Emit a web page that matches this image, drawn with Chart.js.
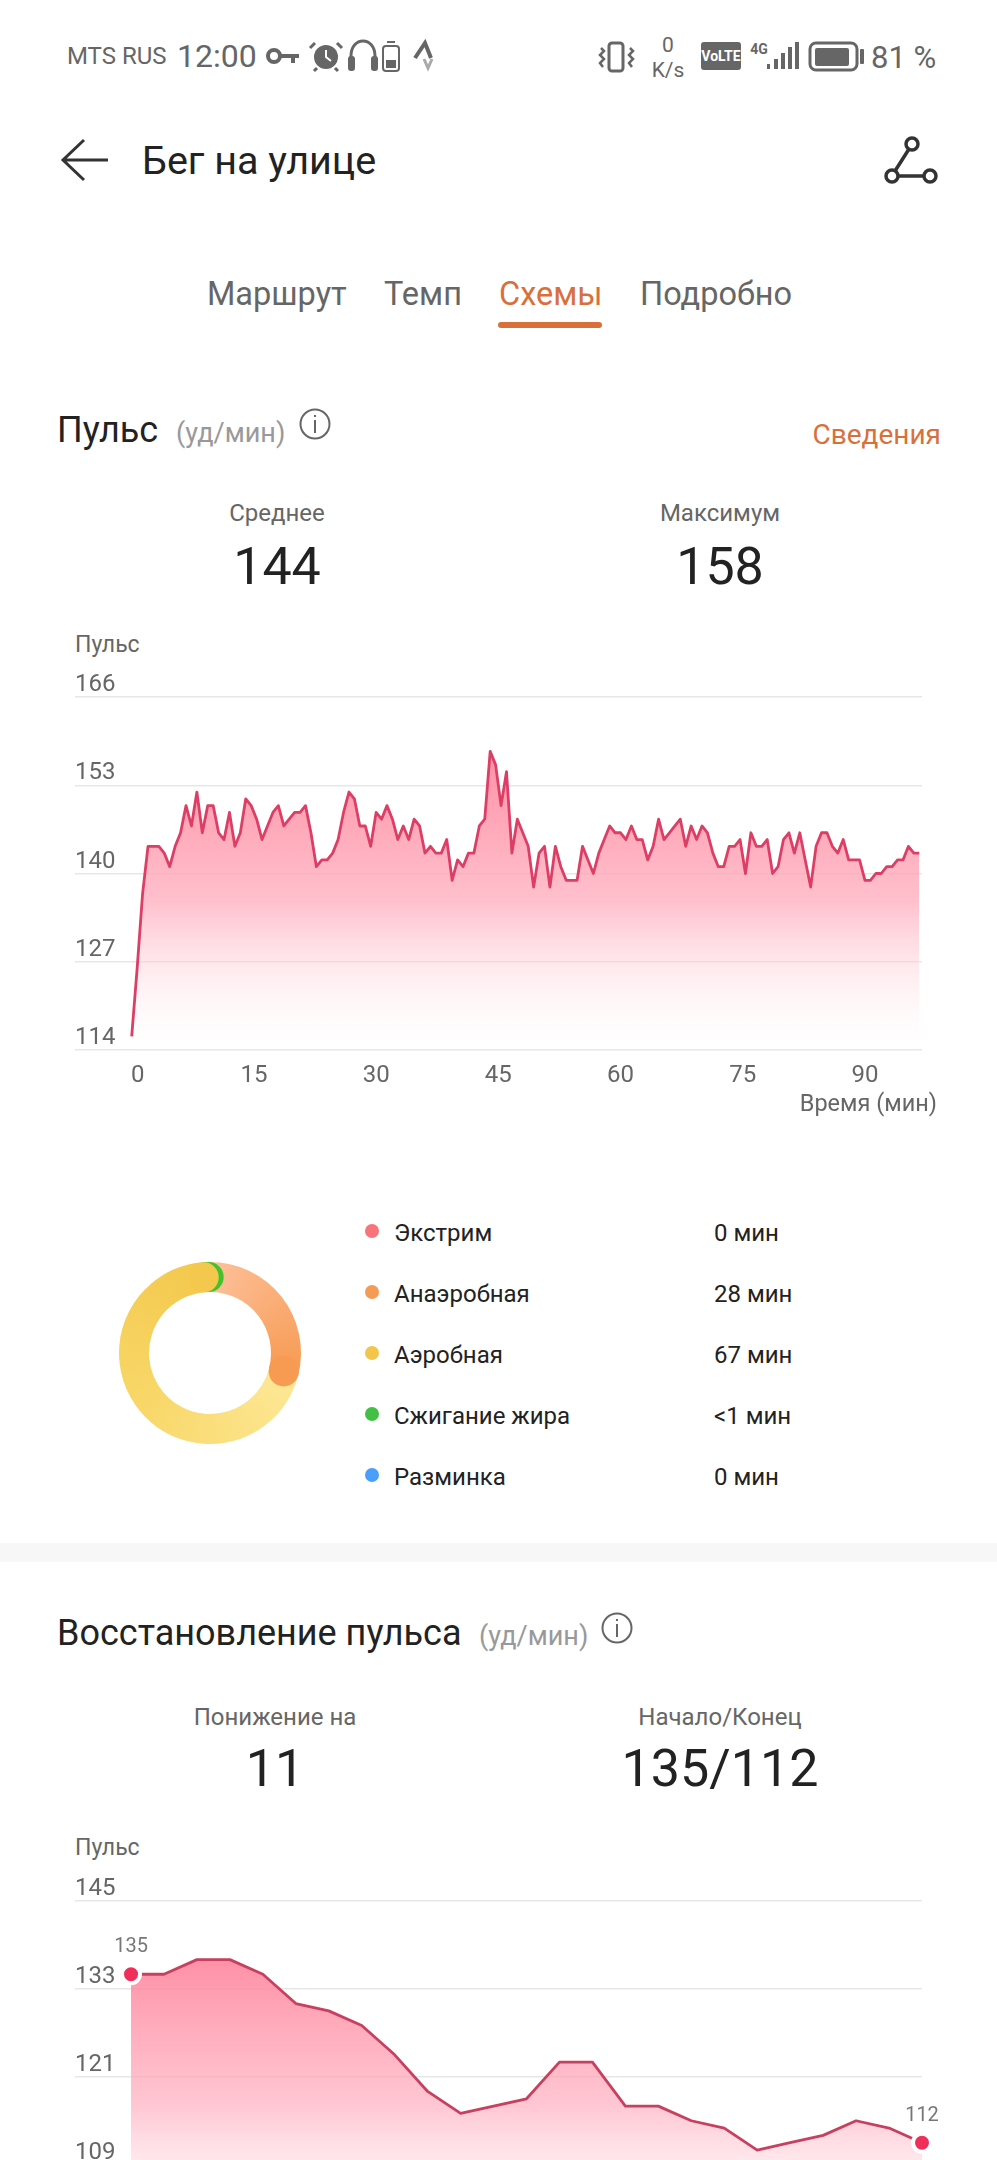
<!DOCTYPE html>
<html>
<head>
<meta charset="utf-8">
<script src="https://cdn.jsdelivr.net/npm/chart.js@4/dist/chart.umd.min.js"></script>
<style>
    html, body { margin: 0; padding: 0; background: #fff; }
    body { position: relative; width: 997px; height: 2160px; overflow: hidden; font-family: Roboto, sans-serif; color: #222; }
    .t { position: absolute; white-space: nowrap; line-height: 1; transform: translateY(-50%); }
    .c { transform: translate(-50%, -50%); }
    .r { transform: translate(-100%, -50%); }
    .grey { color: #666; }
    .orange { color: #d9703c; }
    canvas, svg { position: absolute; display: block; }
    .dot { position: absolute; width: 14px; height: 14px; border-radius: 50%; transform: translate(-50%, -50%); }
</style>
</head>
<body>

<!-- status bar -->
<div class="t grey" style="left:67px;top:56px;font-size:24px">MTS RUS</div>
<div class="t grey" style="left:177px;top:56px;font-size:32px">12:00</div>
<svg style="left:0;top:0" width="997" height="450" fill="none" stroke="#666">
    <circle cx="274" cy="56" r="6" stroke-width="4"/>
    <path d="M280 56H299M293 56V63" stroke-width="4"/>
    <circle cx="326" cy="57" r="12" fill="#666" stroke="none"/>
    <path d="M326 50V57L331 61" stroke="#fff" stroke-width="2"/>
    <path d="M315 43L310 48M337 43L342 48M317 68L314 71M335 68L338 71" stroke-width="3"/>
    <path d="M351 64V56C351 36 375 36 375 56V64" stroke-width="3"/>
    <rect x="348" y="56" width="7" height="15" rx="3" fill="#666" stroke="none"/>
    <rect x="371" y="56" width="7" height="15" rx="3" fill="#666" stroke="none"/>
    <rect x="383" y="46" width="16" height="25" rx="3" stroke-width="2"/>
    <rect x="386" y="60" width="10" height="8" fill="#666" stroke="none"/>
    <path d="M387 42H395" stroke-width="2"/>
    <path d="M415 58L425 43L431 58" stroke-width="4"/>
    <path d="M424 59L428 68L432 59" stroke="#aaa" stroke-width="3"/>
    <rect x="609" y="43" width="14" height="28" rx="3" stroke-width="3"/>
    <path d="M601 48L604 51L600 55L604 59L600 63L603 67M630 48L633 51L629 55L633 59L629 63L632 67" stroke-width="2.5"/>
    <rect x="701" y="42" width="40" height="28" rx="3" fill="#666" stroke="none"/>
    <rect x="767" y="64" width="3" height="5" fill="#666" stroke="none"/>
    <rect x="774" y="59" width="4" height="10" fill="#666" stroke="none"/>
    <rect x="781" y="53" width="4" height="16" fill="#666" stroke="none"/>
    <rect x="788" y="47" width="4" height="22" fill="#666" stroke="none"/>
    <rect x="795" y="42" width="4" height="27" fill="#666" stroke="none"/>
    <rect x="810" y="43" width="47" height="27" rx="6" stroke-width="3"/>
    <rect x="815" y="48" width="34" height="18" rx="2" fill="#666" stroke="none"/>
    <rect x="860" y="49" width="4" height="15" rx="1" fill="#666" stroke="none"/>
    <!-- back arrow and share -->
    <path d="M108 160H64M84 140L63 160L84 180" stroke="#333" stroke-width="3"/>
    <path d="M909 149L895 171M898 176H924" stroke="#333" stroke-width="3.5"/>
    <circle cx="912" cy="144" r="6" stroke="#333" stroke-width="3.5"/>
    <circle cx="892" cy="176" r="6" stroke="#333" stroke-width="3.5"/>
    <circle cx="930" cy="176" r="6" stroke="#333" stroke-width="3.5"/>
    <!-- info icons -->
    <circle cx="315" cy="424" r="14.5" stroke="#666" stroke-width="2"/>
    <path d="M315 420V433M315 415V417" stroke="#666" stroke-width="2"/>
</svg>
<svg style="left:0;top:1600px" width="997" height="60" fill="none">
    <circle cx="617" cy="28" r="14.5" stroke="#666" stroke-width="2"/>
    <path d="M617 24V37M617 19V21" stroke="#666" stroke-width="2"/>
</svg>
<div class="t c grey" style="left:668px;top:45px;font-size:21px">0</div>
<div class="t c grey" style="left:668px;top:70px;font-size:21px">K/s</div>
<div class="t c" style="left:721px;top:56px;font-size:14px;font-weight:700;color:#fff">VoLTE</div>
<div class="t c grey" style="left:759px;top:49px;font-size:14px;font-weight:700">4G</div>
<div class="t grey" style="left:871px;top:57px;font-size:31px">81 %</div>

<!-- header and tabs -->
<div class="t" style="left:142px;top:161px;font-size:39.5px">Бег на улице</div>
<div class="t grey" style="left:207px;top:294px;font-size:32.5px">Маршрут</div>
<div class="t grey" style="left:384px;top:294px;font-size:32.5px">Темп</div>
<div class="t orange" style="left:499px;top:294px;font-size:32.5px">Схемы</div>
<div class="t grey" style="left:640px;top:294px;font-size:32.5px">Подробно</div>
<div style="position:absolute;left:498px;top:322px;width:104px;height:6px;border-radius:3px;background:#d9703c"></div>

<!-- heart rate section -->
<div class="t" style="left:57px;top:430px;font-size:36px">Пульс</div>
<div class="t" style="left:176px;top:433px;font-size:27px;color:#999">(уд/мин)</div>
<div class="t r orange" style="left:941px;top:435px;font-size:28px">Сведения</div>
<div class="t c grey" style="left:277px;top:513px;font-size:24px">Среднее</div>
<div class="t c" style="left:277px;top:567px;font-size:52px">144</div>
<div class="t c grey" style="left:720px;top:513px;font-size:24px">Максимум</div>
<div class="t c" style="left:720px;top:567px;font-size:52px">158</div>
<div class="t grey" style="left:75px;top:644px;font-size:23px">Пульс</div>
<canvas id="pulseChart" width="997" height="450" style="left:0;top:650px"></canvas>
<div class="t r grey" style="left:937px;top:1104px;font-size:23.5px">Время (мин)</div>

<!-- zones -->
<canvas id="zoneChart" width="200" height="200" style="left:110px;top:1253px"></canvas>
<div id="zoneLegend"></div>

<div style="position:absolute;left:0;top:1543px;width:997px;height:19px;background:#f7f7f7"></div>

<!-- recovery section -->
<div class="t" style="left:57px;top:1633px;font-size:36px">Восстановление пульса</div>
<div class="t" style="left:479px;top:1636px;font-size:27px;color:#999">(уд/мин)</div>
<div class="t c grey" style="left:275px;top:1717px;font-size:24px">Понижение на</div>
<div class="t c" style="left:275px;top:1769px;font-size:52px">11</div>
<div class="t c grey" style="left:720px;top:1717px;font-size:24px">Начало/Конец</div>
<div class="t c" style="left:720px;top:1769px;font-size:52px">135/112</div>
<div class="t grey" style="left:75px;top:1847px;font-size:23px">Пульс</div>
<canvas id="recoveryChart" width="997" height="412" style="left:0;top:1855px"></canvas>

<script>
// heart rate, one sample every 40 seconds
const pulseValues = [
    116, 126, 137, 144, 144, 144, 143, 141, 144, 146, 150, 147, 152, 146, 150, 150, 146, 145, 149, 144,
    146, 151, 150, 148, 145, 147, 149, 150, 147, 148, 149, 149, 150, 146, 141, 142, 142, 143, 145, 149,
    152, 151, 147, 147, 144, 149, 148, 150, 148, 145, 147, 145, 148, 147, 143, 144, 143, 143, 145, 139,
    142, 141, 143, 143, 147, 148, 158, 156, 150, 155, 143, 148, 146, 144, 138, 143, 144, 138, 144, 141,
    139, 139, 139, 144, 142, 140, 143, 145, 147, 146, 146, 145, 147, 145, 145, 142, 144, 148, 145, 146,
    147, 148, 144, 147, 145, 147, 146, 143, 141, 141, 144, 144, 145, 140, 146, 144, 144, 145, 140, 141,
    145, 146, 143, 146, 142, 138, 144, 146, 146, 144, 143, 145, 142, 142, 142, 139, 139, 140, 140, 141,
    141, 142, 142, 144, 143, 143
];
const pulseMinutePerSample = 2 / 3;
const pulseYTicks = [114, 127, 140, 153, 166];
const pulseXTicks = [0, 15, 30, 45, 60, 75, 90];

const recoveryValues = [135, 135, 137, 137, 135, 131, 130, 128, 124, 119, 116, 117, 118, 123, 123, 117, 117, 115, 114, 111, 112, 113, 115, 114, 112];
const recoveryYTicks = [97, 109, 121, 133, 145];

const zoneNames = ['Экстрим', 'Анаэробная', 'Аэробная', 'Сжигание жира', 'Разминка'];
const zoneMinutes = [0, 28, 67, 1, 0];
const zoneLabels = ['0 мин', '28 мин', '67 мин', '<1 мин', '0 мин'];
const zoneColors = ['#f8737c', '#f49b56', '#f2c54b', '#43bf45', '#4a9ffa'];
const capColors = ['', '#f79a52', '#f3c84c', '#43c22f', ''];

// fixed axis values, the axis itself starts left of the first sample
function fixedTicks(values) {
    return function(scale) {
        scale.ticks = values.map(function(v) { return { value: v }; });
    };
}

function areaGradient(topValue, topColor, midColor) {
    return function(context) {
        const chart = context.chart;
        if (!chart.chartArea) return topColor;
        const top = chart.scales.y.getPixelForValue(topValue);
        const g = chart.ctx.createLinearGradient(0, top, 0, chart.chartArea.bottom);
        g.addColorStop(0, topColor);
        g.addColorStop(0.5, midColor);
        g.addColorStop(1, 'rgba(255,255,255,0.1)');
        return g;
    };
}

function yAxis(min, max, ticks) {
    return {
        min: min,
        max: max,
        afterBuildTicks: fixedTicks(ticks),
        afterFit: function(scale) { scale.width = 0; },
        border: { display: false },
        grid: { color: '#e7e7e7', lineWidth: 1.5, drawTicks: false },
        ticks: { mirror: true, padding: 0, labelOffset: -12, color: '#666', font: { family: 'Roboto', size: 24 } }
    };
}

new Chart(document.getElementById('pulseChart'), {
    type: 'line',
    data: {
        datasets: [{
            data: pulseValues.map(function(v, i) { return { x: i * pulseMinutePerSample, y: v }; }),
            borderColor: '#dc3e66',
            borderWidth: 2.8,
            borderJoinStyle: 'round',
            pointRadius: 0,
            tension: 0,
            fill: 'start',
            backgroundColor: areaGradient(158, 'rgba(255,125,150,0.85)', 'rgba(255,170,187,0.75)')
        }]
    },
    options: {
        responsive: false,
        animation: false,
        events: [],
        layout: { padding: { left: 75, right: 75, top: 47, bottom: 0 } },
        plugins: { legend: { display: false }, tooltip: { enabled: false } },
        scales: {
            x: {
                type: 'linear',
                min: -6.96,
                max: 97,
                afterBuildTicks: fixedTicks(pulseXTicks),
                afterFit: function(scale) { scale.height = 50; },
                border: { display: false },
                grid: { display: false },
                ticks: {
                    padding: 4,
                    maxRotation: 0,
                    autoSkip: false,
                    color: '#666',
                    font: { family: 'Roboto', size: 24 },
                    // the zero label sits a little right of its tick
                    callback: function(v) { return v === 0 ? '\u00a0\u00a00' : v; }
                }
            },
            y: yAxis(114, 166, pulseYTicks)
        }
    }
});

// value labels above the first and last recovery points
const endLabels = {
    id: 'endLabels',
    afterDatasetsDraw: function(chart) {
        const points = chart.getDatasetMeta(0).data;
        const c = chart.ctx;
        c.save();
        c.font = '20px Roboto';
        c.fillStyle = '#777';
        c.textAlign = 'center';
        c.textBaseline = 'middle';
        [0, points.length - 1].forEach(function(i) {
            c.fillText(recoveryValues[i], points[i].x, points[i].y - 27);
        });
        c.restore();
    }
};

new Chart(document.getElementById('recoveryChart'), {
    type: 'line',
    data: {
        datasets: [{
            data: recoveryValues.map(function(v, i) { return { x: i, y: v }; }),
            borderColor: '#c8405f',
            borderWidth: 2.8,
            borderJoinStyle: 'round',
            tension: 0,
            clip: false,
            fill: 'start',
            backgroundColor: areaGradient(137, 'rgba(255,125,150,0.85)', 'rgba(255,175,192,0.7)'),
            pointRadius: function(ctx) { return ctx.dataIndex === 0 || ctx.dataIndex === recoveryValues.length - 1 ? 9 : 0; },
            pointBackgroundColor: '#ef2f5a',
            pointBorderColor: '#fff',
            pointBorderWidth: 4
        }]
    },
    plugins: [endLabels],
    options: {
        responsive: false,
        animation: false,
        events: [],
        layout: { padding: { left: 75, right: 75, top: 46, bottom: 0 } },
        plugins: { legend: { display: false }, tooltip: { enabled: false } },
        scales: {
            x: { type: 'linear', min: -1.7, max: 24, display: false },
            y: yAxis(97, 145, recoveryYTicks)
        }
    }
});

// round ends of the ring: green under yellow, yellow under orange
const roundCaps = {
    id: 'roundCaps',
    afterDatasetDraw: function(chart) {
        const c = chart.ctx;
        const arcs = chart.getDatasetMeta(0).data;
        [3, 2, 1].forEach(function(i) {
            const arc = arcs[i];
            const mid = (arc.innerRadius + arc.outerRadius) / 2;
            const r = (arc.outerRadius - arc.innerRadius) / 2;
            c.beginPath();
            c.arc(arc.x + mid * Math.cos(arc.endAngle), arc.y + mid * Math.sin(arc.endAngle), r, 0, Math.PI * 2);
            c.fillStyle = capColors[i];
            c.fill();
        });
    }
};

function ringColor(context) {
    const chart = context.chart;
    if (context.dataIndex === 3) return capColors[3];
    if (!chart.chartArea) return zoneColors[context.dataIndex];
    const a = chart.chartArea;
    const g = chart.ctx.createConicGradient(-Math.PI / 2, (a.left + a.right) / 2, (a.top + a.bottom) / 2);
    g.addColorStop(0, '#fdc09a');
    g.addColorStop(0.29, '#f79a52');
    g.addColorStop(0.292, '#fee897');
    g.addColorStop(0.65, '#f8d768');
    g.addColorStop(1, '#f3c84c');
    return g;
}

new Chart(document.getElementById('zoneChart'), {
    type: 'doughnut',
    data: {
        labels: zoneNames,
        datasets: [{ data: zoneMinutes, backgroundColor: ringColor, borderWidth: 0 }]
    },
    plugins: [roundCaps],
    options: {
        responsive: false,
        animation: false,
        events: [],
        rotation: -1,
        cutout: '67%',
        layout: { padding: 9 },
        plugins: { legend: { display: false }, tooltip: { enabled: false } }
    }
});

// legend rows next to the ring
const legendRows = [1231, 1292, 1353, 1414, 1475];
document.getElementById('zoneLegend').innerHTML = zoneNames.map(function(name, i) {
    const y = legendRows[i];
    return `<div class="dot" style="left:372px;top:${y}px;background:${zoneColors[i]}"></div>
        <div class="t" style="left:394px;top:${y + 2}px;font-size:24px">${name}</div>
        <div class="t" style="left:714px;top:${y + 2}px;font-size:24px">${zoneLabels[i].replace('<', '&lt;')}</div>`;
}).join('');
</script>
</body>
</html>
